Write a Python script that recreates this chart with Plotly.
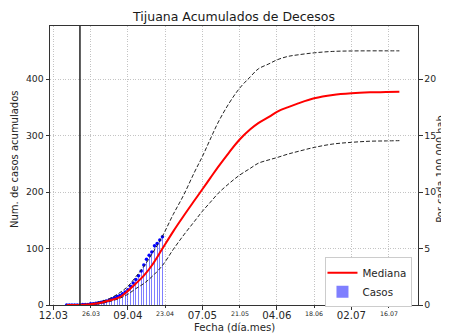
import plotly.graph_objects as go
import pandas as pd

# ---------------- data ----------------
case_dates = pd.date_range("2020-03-17", "2020-04-22", freq="D")
case_values = [0, 0, 0, 0, 0, 0, 1, 1, 1, 2, 2, 3, 4, 5, 6,
               7, 9, 11, 13, 15, 17, 20, 23, 27, 33, 39, 45, 52, 60, 71,
               81, 88, 94, 105, 109, 115, 121]

line_dates = ["2020-03-17", "2020-03-21", "2020-03-25", "2020-03-29", "2020-04-02",
              "2020-04-06", "2020-04-09", "2020-04-12", "2020-04-15", "2020-04-18",
              "2020-04-22", "2020-04-26", "2020-04-30", "2020-05-04", "2020-05-07",
              "2020-05-10", "2020-05-13", "2020-05-17", "2020-05-21", "2020-05-25",
              "2020-05-28", "2020-06-01", "2020-06-04", "2020-06-08", "2020-06-12",
              "2020-06-18", "2020-06-25", "2020-07-02", "2020-07-09", "2020-07-15",
              "2020-07-20"]
median_values = [0, 0.2, 1, 3, 8, 14, 25, 38, 52, 70, 100, 130, 158, 185, 205,
                 225, 245, 270, 293, 311, 322, 333, 342, 350, 357, 366, 372, 375,
                 376.5, 377, 377.5]
upper_values = [0, 0.3, 1.5, 5, 11, 22, 33, 50, 68, 90, 122, 160, 195, 235, 263,
                294, 324, 357, 384, 404, 418, 427, 434, 440, 443, 446.5, 449, 449.8,
                450, 450, 450]
lower_values = [0, 0.1, 0.6, 2, 6, 12, 19, 29, 38, 50, 70, 98, 124, 148, 166,
                182, 198, 215, 230, 242, 251, 257, 261, 267, 272, 279, 285, 288,
                290, 290.5, 291]

major_ticks = ["2020-03-12", "2020-04-09", "2020-05-07", "2020-06-04", "2020-07-02"]
major_labels = ["12.03", "09.04", "07.05", "04.06", "02.07"]
minor_ticks = ["2020-03-26", "2020-04-23", "2020-05-21", "2020-06-18", "2020-07-16"]
minor_labels = ["26.03", "23.04", "21.05", "18.06", "16.07"]
y_ticks = [0, 100, 200, 300, 400]
y2_ticks = [0, 5, 10, 15, 20]
event_date = "2020-03-22"
population = 2_000_000
per_100k = 100000 / population

Y_MAX = 494
X_RANGE = ["2020-03-10 18:00", "2020-07-27 00:00"]
AX = "#333333"
GRID = "#c4c4c4"
TXT = "#262626"

# the page body adds an 8px offset, so the figure is 8px smaller than the window
W, H = 441, 327

fig = go.Figure()

fig.add_trace(go.Bar(
    x=case_dates, y=case_values, name="Casos",
    width=0.45 * 86400000,
    marker=dict(color="rgba(0,0,255,0.5)", line=dict(width=0)),
    legendrank=2,
))
fig.add_trace(go.Scatter(
    x=case_dates, y=case_values, mode="markers",
    marker=dict(color="#0000ff", size=3.5),
    showlegend=False, hoverinfo="skip",
))
for vals in (upper_values, lower_values):
    fig.add_trace(go.Scatter(
        x=line_dates, y=vals, mode="lines", line_shape="spline",
        line=dict(color="#222222", width=1, dash="4px,2px"),
        showlegend=False,
    ))
fig.add_trace(go.Scatter(
    x=line_dates, y=median_values, mode="lines", line_shape="spline",
    line=dict(color="#ff0000", width=2), name="Mediana", legendrank=1,
))
# per 100k scale on the right axis (invisible helper)
fig.add_trace(go.Scatter(
    x=line_dates, y=[v * per_100k for v in median_values], yaxis="y2",
    mode="lines", line=dict(width=0, color="rgba(0,0,0,0)"),
    showlegend=False, hoverinfo="skip",
))

fig.add_shape(type="line", x0=event_date, x1=event_date, xref="x",
              y0=0, y1=1, yref="paper", line=dict(color="#222222", width=1.5))

for d, lab in zip(minor_ticks, minor_labels):
    fig.add_annotation(x=d, y=0, xref="x", yref="paper", text=lab,
                       showarrow=False, yanchor="top", yshift=-3,
                       font=dict(size=6.3, color=TXT))

# axis titles
fig.add_annotation(text="Fecha (día.mes)", x=0.5, y=-0.082, xref="paper", yref="paper",
                   xanchor="center", yanchor="middle", showarrow=False,
                   font=dict(size=10.2, color=TXT))
fig.add_annotation(text="Num. de casos acumulados", x=-0.098, y=0.523,
                   xref="paper", yref="paper", textangle=-90,
                   xanchor="center", yanchor="middle", showarrow=False,
                   font=dict(size=10, color=TXT))
fig.add_annotation(text="Por cada 100,000 hab.", x=1.0625, y=0.492,
                   xref="paper", yref="paper", textangle=-90,
                   xanchor="center", yanchor="middle", showarrow=False,
                   font=dict(size=9.8, color=TXT))

fig.update_layout(
    width=W, height=H,
    margin=dict(l=42, r=31.3, t=17.7, b=30, autoexpand=False),
    plot_bgcolor="white", paper_bgcolor="white",
    font=dict(family="DejaVu Sans", color=TXT),
    title=dict(text="Tijuana Acumulados de Decesos", xref="paper", x=0.5,
               xanchor="center", yref="container", y=1 - 8.5 / H,
               yanchor="middle", font=dict(size=12.5, color="#1a1a1a")),
    bargap=0,
    showlegend=True,
    legend=dict(x=0.985, y=-0.008, xanchor="right", yanchor="bottom",
                bgcolor="white", bordercolor="#cccccc", borderwidth=1,
                font=dict(size=10.3), itemwidth=30, tracegroupgap=0,
                indentation=-4),
    xaxis=dict(
        type="date", range=X_RANGE, automargin=False,
        tickvals=major_ticks, ticktext=major_labels,
        ticks="outside", ticklen=3.5, tickcolor=AX,
        tickfont=dict(size=10.2), ticklabelstandoff=-3,
        showline=True, linecolor=AX, linewidth=1, mirror=True,
        showgrid=True, gridcolor=GRID, griddash="1px,1.5px", gridwidth=1,
        zeroline=False,
        minor=dict(tickvals=minor_ticks, ticks="outside", ticklen=2,
                   tickcolor=AX, showgrid=True, gridcolor=GRID, griddash="1px,1.5px"),
    ),
    yaxis=dict(
        range=[0, Y_MAX], tickvals=y_ticks, automargin=False,
        ticks="outside", ticklen=3.5, tickcolor=AX,
        tickfont=dict(size=9.3),
        showline=True, linecolor=AX, linewidth=1,
        showgrid=True, gridcolor=GRID, griddash="1px,1.5px", gridwidth=1,
        zeroline=False,
    ),
    yaxis2=dict(
        overlaying="y", side="right", anchor="x", automargin=False,
        range=[0, Y_MAX * per_100k], tickvals=y2_ticks,
        ticks="outside", ticklen=3.5, tickcolor=AX,
        tickfont=dict(size=9.3),
        showline=True, linecolor=AX, linewidth=1,
        showgrid=False, zeroline=False,
    ),
)

fig.write_html("out.html")
